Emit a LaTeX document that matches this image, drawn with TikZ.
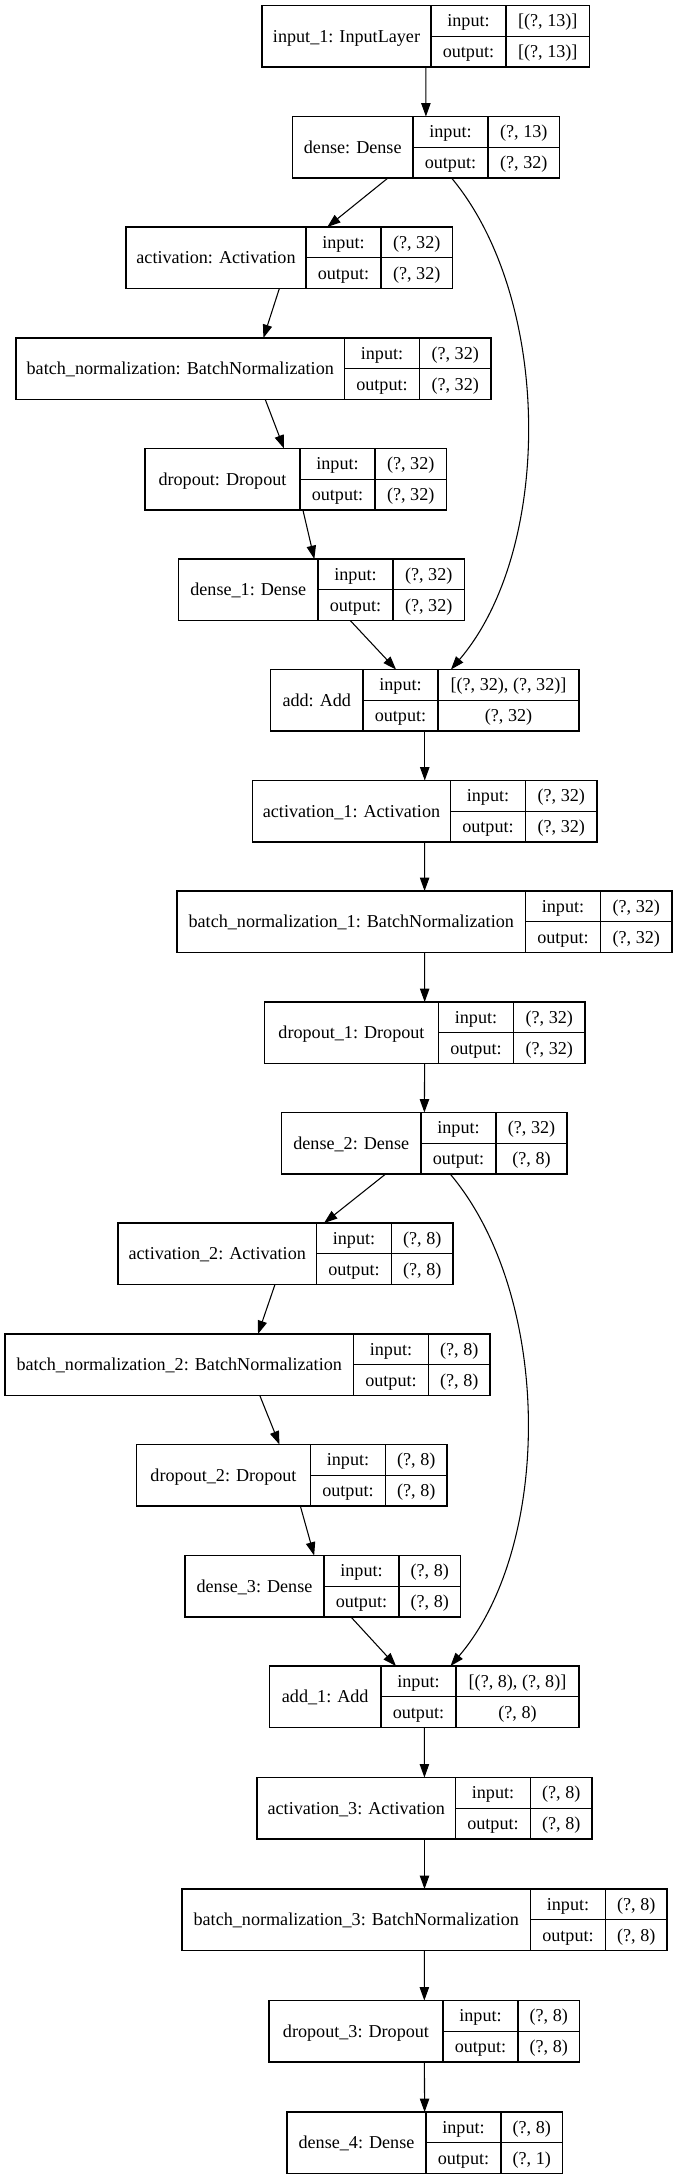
\documentclass[tikz,border=0pt]{standalone}
\usepackage{fontspec}
\setmainfont{Liberation Serif}
\usetikzlibrary{arrows.meta}
\begin{document}
\begin{tikzpicture}[x=0.75pt,y=-0.75pt,
  every node/.style={font=\fontsize{13.6pt}{16pt}\selectfont,inner sep=0pt},
  layerbox/.style={draw,line width=0.8pt,outer sep=0pt,minimum height=46.125pt},
  edge/.style={-{Triangle[length=10pt,width=7pt]},line width=0.8pt}]
\fill[white] (0,0) rectangle (674,2176);
\useasboundingbox (0,0) rectangle (674,2176);
% name/left/top/name width/value width/label/input/output
\foreach \nm/\lx/\ty/\wa/\wc/\lab/\vin/\vout in {
  input1/262/5.5/169/83.5/{input\_1: InputLayer}/{[(?, 13)]}/{[(?, 13)]},
  dense/292.5/116.5/120.5/71.5/{dense: Dense}/{(?, 13)}/{(?, 32)},
  activation/126/227/180/71.5/{activation: Activation}/{(?, 32)}/{(?, 32)},
  batchnorm/16/338/328.5/71.5/{batch\_normalization: BatchNormalization}/{(?, 32)}/{(?, 32)},
  dropout/145/448.5/155/71.5/{dropout: Dropout}/{(?, 32)}/{(?, 32)},
  dense1/178.5/559/139.5/71.5/{dense\_1: Dense}/{(?, 32)}/{(?, 32)},
  add/270.5/669.5/92.5/141/{add: Add}/{[(?, 32), (?, 32)]}/{(?, 32)},
  activation1/252.5/780.5/198/71.5/{activation\_1: Activation}/{(?, 32)}/{(?, 32)},
  batchnorm1/177/891/348.5/71.5/{batch\_normalization\_1: BatchNormalization}/{(?, 32)}/{(?, 32)},
  dropout1/264.5/1002/174/71.5/{dropout\_1: Dropout}/{(?, 32)}/{(?, 32)},
  dense2/281.5/1112.5/139.5/71/{dense\_2: Dense}/{(?, 32)}/{(?, 8)},
  activation2/118/1223/198.5/61.5/{activation\_2: Activation}/{(?, 8)}/{(?, 8)},
  batchnorm2/5/1334/348.5/61.5/{batch\_normalization\_2: BatchNormalization}/{(?, 8)}/{(?, 8)},
  dropout2/136.5/1444.5/174/61.5/{dropout\_2: Dropout}/{(?, 8)}/{(?, 8)},
  dense3/185/1555.5/139/61.5/{dense\_3: Dense}/{(?, 8)}/{(?, 8)},
  add1/269.5/1666/111.5/123/{add\_1: Add}/{[(?, 8), (?, 8)]}/{(?, 8)},
  activation3/257/1777.5/198.5/61.5/{activation\_3: Activation}/{(?, 8)}/{(?, 8)},
  batchnorm3/182/1889/348.5/61.5/{batch\_normalization\_3: BatchNormalization}/{(?, 8)}/{(?, 8)},
  dropout3/269/2000.5/174/61.5/{dropout\_3: Dropout}/{(?, 8)}/{(?, 8)},
  dense4/287/2112/139/61.5/{dense\_4: Dense}/{(?, 8)}/{(?, 1)}}{
  \node[layerbox,minimum width={(\wa+75+\wc)*0.75pt}] (\nm) at ({\lx+(\wa+75+\wc)/2},{\ty+30.75}) {};
  \draw[line width=0.8pt] (\nm.north west) ++(\wa,0) -- ++(0,61.5)
    (\nm.north west) ++(\wa+75,0) -- ++(0,61.5)
    (\nm.west) ++(\wa,0) -- (\nm.east);
  \node[anchor=base] (\nm-lab) at ({\lx+\wa/2},{\ty+36.75}) {\lab};
  \node[anchor=base] (\nm-in) at ({\lx+\wa+37.5},{\ty+21.4}) {input:};
  \node[anchor=base] (\nm-out) at ({\lx+\wa+37.5},{\ty+52.1}) {output:};
  \node[anchor=base] (\nm-vin) at ({\lx+\wa+75+\wc/2},{\ty+21.4}) {\vin};
  \node[anchor=base] (\nm-vout) at ({\lx+\wa+75+\wc/2},{\ty+52.1}) {\vout};
}
\draw[edge] (input1) -- (dense);
\draw[edge] (dense) -- (activation);
\draw[edge] (activation) -- (batchnorm);
\draw[edge] (batchnorm) -- (dropout);
\draw[edge] (dropout) -- (dense1);
\draw[edge] (dense1) -- (add);
\draw[edge] (dense) .. controls (553,300) and (553,550) .. (add);
\draw[edge] (add) -- (activation1);
\draw[edge] (activation1) -- (batchnorm1);
\draw[edge] (batchnorm1) -- (dropout1);
\draw[edge] (dropout1) -- (dense2);
\draw[edge] (dense2) -- (activation2);
\draw[edge] (activation2) -- (batchnorm2);
\draw[edge] (batchnorm2) -- (dropout2);
\draw[edge] (dropout2) -- (dense3);
\draw[edge] (dense3) -- (add1);
\draw[edge] (dense2) .. controls (553,1296) and (553,1546) .. (add1);
\draw[edge] (add1) -- (activation3);
\draw[edge] (activation3) -- (batchnorm3);
\draw[edge] (batchnorm3) -- (dropout3);
\draw[edge] (dropout3) -- (dense4);
\end{tikzpicture}
\end{document}
